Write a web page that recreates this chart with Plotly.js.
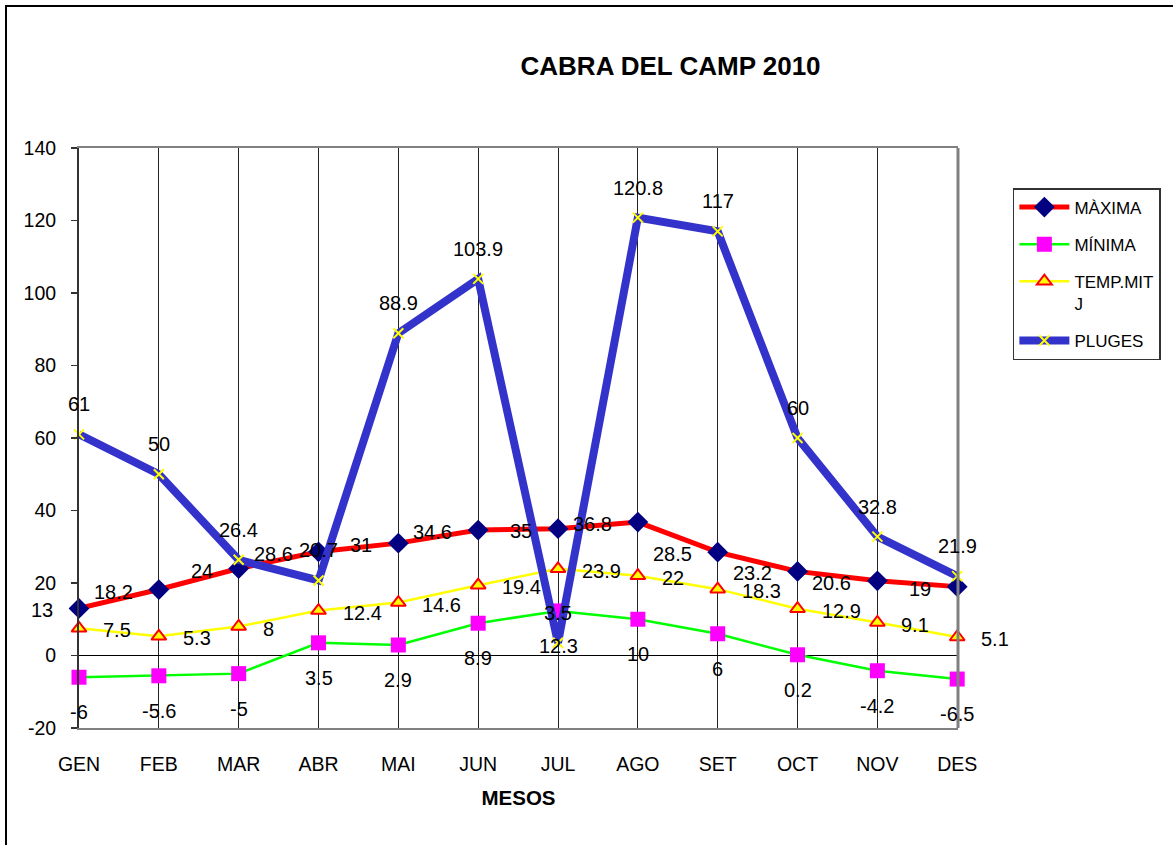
<!DOCTYPE html>
<html>
<head>
<meta charset="utf-8">
<script src="https://cdn.plot.ly/plotly-3.0.1.min.js"></script>
<style>
  html, body { margin: 0; padding: 0; overflow: hidden; background: #fff; }
  #chart { width: 1173px; height: 845px; }
  #frame { position: absolute; left: 5px; top: 5px; width: 1200px; height: 900px;
           border: 2px solid #000; pointer-events: none; box-sizing: border-box; }
</style>
</head>
<body>
<div id="chart"></div>
<div id="frame"></div>
<script>
const meses = ['GEN','FEB','MAR','ABR','MAI','JUN','JUL','AGO','SET','OCT','NOV','DES'];
const maxima = [13, 18.2, 24, 28.6, 31, 34.6, 35, 36.8, 28.5, 23.2, 20.6, 19];
const minima = [-6, -5.6, -5, 3.5, 2.9, 8.9, 12.3, 10, 6, 0.2, -4.2, -6.5];
const tempMitj = [7.5, 5.3, 8, 12.4, 14.6, 19.4, 23.9, 22, 18.3, 12.9, 9.1, 5.1];
const pluges = [61, 50, 26.4, 20.7, 88.9, 103.9, 3.5, 120.8, 117, 60, 32.8, 21.9];
const yTicks = [-20, 0, 20, 40, 60, 80, 100, 120, 140];

const FONT = 'Liberation Sans, Arial, sans-serif';

const traces = [
  {
    name: 'MÀXIMA', x: meses, y: maxima, mode: 'lines+markers', legendgroup: 'a',
    line: {color: '#FF0000', width: 5},
    marker: {symbol: 'diamond', size: 16, color: '#000080', line: {width: 0}},
    cliponaxis: false
  },
  {
    name: 'MÍNIMA', x: meses, y: minima, mode: 'lines+markers', legendgroup: 'b',
    line: {color: '#00FF00', width: 2.5},
    marker: {symbol: 'square', size: 15, color: '#FF00FF', line: {width: 0}},
    cliponaxis: false
  },
  {
    name: 'TEMP.MIT<br>J', x: meses, y: tempMitj, mode: 'lines+markers', legendgroup: 'c',
    line: {color: '#FFFF00', width: 2.5},
    marker: {symbol: 'triangle-up', size: 13, color: '#FFFF00', line: {color: '#FF0000', width: 2}},
    cliponaxis: false
  },
  {
    name: 'PLUGES', x: meses, y: pluges, mode: 'lines+markers', legendgroup: 'd',
    line: {color: '#3333CC', width: 8},
    marker: {symbol: 'x-thin', size: 10, color: '#FFFF00', line: {color: '#FFFF00', width: 2}},
    cliponaxis: false
  }
];

const annotations = [];
const lblFont = {family: FONT, size: 20, color: '#000'};
meses.forEach((m, i) => {
  annotations.push({x: m, y: maxima[i], xref: 'x', yref: 'y', text: String(maxima[i]), showarrow: false,
    xanchor: 'right', yanchor: 'middle', xshift: -24, yshift: -2, font: lblFont});
  annotations.push({x: m, y: minima[i], xref: 'x', yref: 'y', text: String(minima[i]), showarrow: false,
    xanchor: 'center', yanchor: 'middle', yshift: -35, font: lblFont});
  annotations.push({x: m, y: tempMitj[i], xref: 'x', yref: 'y', text: String(tempMitj[i]), showarrow: false,
    xanchor: 'left', yanchor: 'middle', xshift: 22, yshift: -2, font: lblFont});
  annotations.push({x: m, y: pluges[i], xref: 'x', yref: 'y', text: String(pluges[i]), showarrow: false,
    xanchor: 'center', yanchor: 'middle', yshift: 30, font: lblFont});
});

const layout = {
  width: 1173, height: 845,
  margin: {l: 79, r: 213, t: 148, b: 117, pad: 0},
  paper_bgcolor: '#fff', plot_bgcolor: '#fff',
  font: {family: FONT, size: 19.5, color: '#000'},
  title: {
    text: '<b>CABRA DEL CAMP 2010</b>',
    font: {family: FONT, size: 26, color: '#000'},
    xref: 'paper', x: 0.673, xanchor: 'center',
    yref: 'container', y: 1 - 66/845, yanchor: 'middle'
  },
  xaxis: {
    type: 'category', categoryorder: 'array', categoryarray: meses,
    range: [0, 11.01],
    showgrid: true, gridcolor: '#222', gridwidth: 1,
    showline: true, linecolor: '#808080', linewidth: 2, mirror: true,
    ticks: '', ticklabelstandoff: 18,
    tickfont: {family: FONT, size: 19.5, color: '#000'},
    zeroline: false,
    title: {text: '<b>MESOS</b>', font: {family: FONT, size: 20.5, color: '#000'}, standoff: 16}
  },
  yaxis: {
    range: [-20, 140], tickvals: yTicks, ticktext: yTicks.map(String),
    showgrid: false,
    showline: true, linecolor: '#333', linewidth: 2, mirror: false,
    ticks: 'outside', ticklen: 6, tickcolor: '#333', tickwidth: 1.5,
    ticklabelstandoff: 11,
    tickfont: {family: FONT, size: 19.5, color: '#000'},
    zeroline: true, zerolinecolor: '#000', zerolinewidth: 1
  },
  shapes: [
    {type: 'line', xref: 'paper', yref: 'paper', x0: 1, x1: 1, y0: 0, y1: 1,
     line: {color: '#808080', width: 3}}
  ],
  showlegend: true,
  legend: {
    x: (1015 - 79) / 881, xanchor: 'left',
    y: (728 - 188) / 580, yanchor: 'top',
    bgcolor: '#fff', bordercolor: '#333', borderwidth: 1.5,
    font: {family: FONT, size: 17, color: '#000'},
    tracegroupgap: 12, valign: 'top', itemwidth: 50,
    traceorder: 'grouped'
  },
  annotations: annotations
};

Plotly.newPlot('chart', traces, layout, {displayModeBar: false, staticPlot: true});
</script>
</body>
</html>
